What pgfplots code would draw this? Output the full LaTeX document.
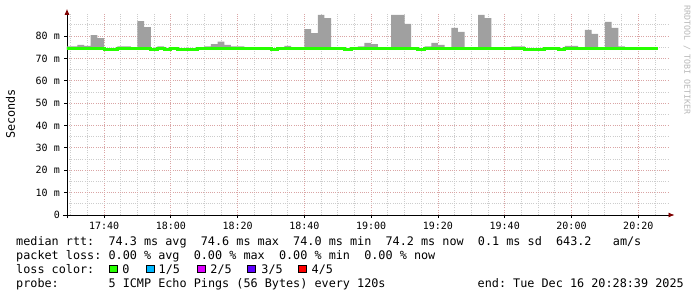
\documentclass[border=0pt]{standalone}
\usepackage{fontspec}
\setmonofont{DejaVu Sans Mono}
\usepackage{pgfplots}
\pgfplotsset{compat=1.18}
\usepackage{pgfplotstable}
\usetikzlibrary{arrows.meta}
\definecolor{lossgreen}{RGB}{38,255,0}
\definecolor{losscyan}{RGB}{0,184,255}
\definecolor{lossmag}{RGB}{221,0,255}
\definecolor{lossviolet}{RGB}{94,0,255}
\definecolor{lossred}{RGB}{255,0,0}
\definecolor{smoke}{RGB}{160,160,160}
\definecolor{mgrid}{RGB}{218,165,165}
\definecolor{mingrid}{RGB}{205,205,205}
\definecolor{arrowred}{RGB}{127,0,0}
\definecolor{wmark}{RGB}{185,185,185}
\newcommand\legfont{\fontsize{11.8bp}{14bp}\selectfont\ttfamily}
\newcommand\tickfont{\fontsize{10bp}{12bp}\selectfont\ttfamily}

\pgfplotstableread{
t med lo hi
28 74.3 74.0 75.4
30 74.3 74.0 75.4
32 74.3 74.0 76.0
34 74.3 74.0 75.6
36 74.2 73.9 80.4
38 74.2 73.9 79.1
40 74.1 74.1 74.1
42 74.1 74.1 74.1
44 74.2 73.9 75.4
46 74.2 73.9 75.4
48 74.3 74.3 74.3
50 74.3 74.0 86.7
52 74.2 73.8 84.0
54 74.1 74.1 74.1
56 74.3 74.0 75.4
58 74.1 74.1 74.1
60 74.3 74.3 74.3
62 74.1 74.1 74.1
64 74.1 74.1 74.1
66 74.1 74.1 74.1
68 74.2 74.2 74.2
70 74.3 74.0 75.4
72 74.2 73.9 76.4
74 74.3 74.0 77.5
76 74.2 73.9 76.0
78 74.3 74.0 75.4
80 74.2 73.9 75.4
82 74.4 74.4 74.4
84 74.4 74.4 74.4
86 74.4 74.4 74.4
88 74.4 74.4 74.4
90 74.1 74.1 74.1
92 74.2 74.2 74.2
94 74.3 74.0 75.6
96 74.3 74.3 74.3
98 74.3 74.3 74.3
100 74.3 74.0 83.1
102 74.3 74.0 81.3
104 74.2 73.8 89.4
106 74.3 74.0 88.0
108 74.3 74.3 74.3
110 74.3 74.3 74.3
112 74.1 74.1 74.1
114 74.4 74.4 74.4
116 74.3 74.0 75.4
118 74.3 74.0 76.9
120 74.2 73.9 76.4
122 74.3 74.3 74.3
124 74.3 74.3 74.3
126 74.4 74.1 89.4
128 74.2 73.9 89.4
130 74.3 74.0 85.4
132 74.3 74.3 74.3
134 74.1 74.1 74.1
136 74.3 74.0 75.4
138 74.3 74.0 76.9
140 74.2 73.9 76.0
142 74.3 74.3 74.3
144 74.3 74.0 83.6
146 74.2 73.9 81.8
148 74.3 74.3 74.3
150 74.3 74.3 74.3
152 74.3 74.0 89.4
154 74.2 73.9 88.0
156 74.3 74.3 74.3
158 74.3 74.3 74.3
160 74.3 74.3 74.3
162 74.3 74.0 75.4
164 74.3 74.0 75.4
166 74.1 74.1 74.1
168 74.1 74.1 74.1
170 74.1 74.1 74.1
172 74.3 74.3 74.3
174 74.3 74.3 74.3
176 74.1 74.1 74.1
178 74.3 74.0 75.6
180 74.3 74.0 75.6
182 74.3 74.3 74.3
184 74.3 74.0 82.7
186 74.3 74.0 80.9
188 74.3 74.3 74.3
190 74.3 74.0 86.3
192 74.3 74.0 83.6
194 74.3 74.0 75.4
196 74.3 74.3 74.3
198 74.3 74.3 74.3
200 74.3 74.3 74.3
202 74.3 74.3 74.3
204 74.3 74.3 74.3
206 74.3 74.3 74.3
}\smokedata

\begin{document}
\frenchspacing
\begin{tikzpicture}
\fill[white] (-67bp,-82bp) rectangle (630bp,215bp);
\begin{axis}[
  at={(0bp,0bp)}, anchor=south west,
  scale only axis, width=602bp, height=201.15bp,
  xmin=28.9, xmax=209.2, ymin=0, ymax=89.9,
  axis lines=left,
  axis line style={black, line width=0.8bp},
  x axis line style={-{Latex[length=6bp,width=5bp,color=arrowred]}, shorten >=-5.5bp, shorten <=-4bp},
  y axis line style={-{Latex[length=6bp,width=5bp,color=arrowred]}, shorten >=-5bp, shorten <=-3bp},
  xtick={40,60,...,200},
  xticklabels={17:40,18:00,18:20,18:40,19:00,19:20,19:40,20:00,20:20},
  minor xtick={30,35,45,50,55,65,70,75,85,90,95,105,110,115,125,130,135,145,150,155,165,170,175,185,190,195,205},
  ytick={0,10,...,80},
  yticklabels={0~,10 m,20 m,30 m,40 m,50 m,60 m,70 m,80 m},
  minor ytick={5,15,...,85},
  grid=both,
  major grid style={mgrid, line width=0.8bp, dash pattern=on 1bp off 1.2bp},
  minor grid style={mingrid, line width=0.8bp, dash pattern=on 1bp off 1.2bp},
  tick align=outside, major tick length=3bp, minor tick length=0bp,
  tick style={black, line width=0.8bp},
  ticklabel style={font=\tickfont},
  xticklabel style={inner sep=0pt, yshift=-4bp},
  yticklabel style={inner sep=0pt, xshift=-4bp},
]
\addplot[draw=none, fill=none, const plot mark left, stack plots=y, forget plot] table[x=t,y=lo]{\smokedata} \closedcycle;
\addplot[draw=none, fill=smoke, const plot mark left, stack plots=y, forget plot] table[x=t,y expr=\thisrow{hi}-\thisrow{lo}]{\smokedata} \closedcycle;
\addplot[lossgreen, line width=3bp, const plot mark left, mark=none, stack plots=false] table[x=t,y=med]{\smokedata};
\end{axis}
% y label and watermark
\node[rotate=90, font=\legfont, inner sep=0pt] at (-56.5bp,101bp) {Seconds};
\node[rotate=-90, font=\fontsize{8.3bp}{10bp}\selectfont\ttfamily, text=wmark, inner sep=0pt] at (620bp,155bp) {RRDTOOL / TOBI OETIKER};
% legend
\node[anchor=base west, font=\legfont, inner sep=0pt] at (-51bp,-30bp) {median rtt:~~74.3 ms avg~~74.6 ms max~~74.0 ms min~~74.2 ms now~~0.1 ms sd~~643.2~~~am/s};
\node[anchor=base west, font=\legfont, inner sep=0pt] at (-51bp,-44bp) {packet loss: 0.00 \% avg~~0.00 \% max~~0.00 \% min~~0.00 \% now};
\node[anchor=base west, font=\legfont, inner sep=0pt] at (-51bp,-58bp) {loss color:};
\foreach \bx/\col/\tx/\lab in {42.1/lossgreen/55.2/{0}, 79.1/losscyan/91.5/{1/5}, 130.1/lossmag/143.2/{2/5}, 180.4/lossviolet/194.2/{3/5}, 231.1/lossred/244.5/{4/5}}{
  \node[draw=black, fill=\col, line width=0.8bp, minimum size=7.6bp, inner sep=0pt, anchor=south west] at (\bx bp,-57.9bp) {};
  \node[anchor=base west, font=\legfont, inner sep=0pt] at (\tx bp,-58bp) {\lab};
}
\node[anchor=base west, font=\legfont, inner sep=0pt] at (-51bp,-72bp) {probe:~~~~~~~5 ICMP Echo Pings (56 Bytes) every 120s};
\node[anchor=base west, font=\legfont, inner sep=0pt] at (410.5bp,-72bp) {end: Tue Dec 16 20:28:39 2025};
\pgfresetboundingbox
\path[use as bounding box] (-67bp,-82bp) rectangle (630bp,215bp);
\end{tikzpicture}
\end{document}
